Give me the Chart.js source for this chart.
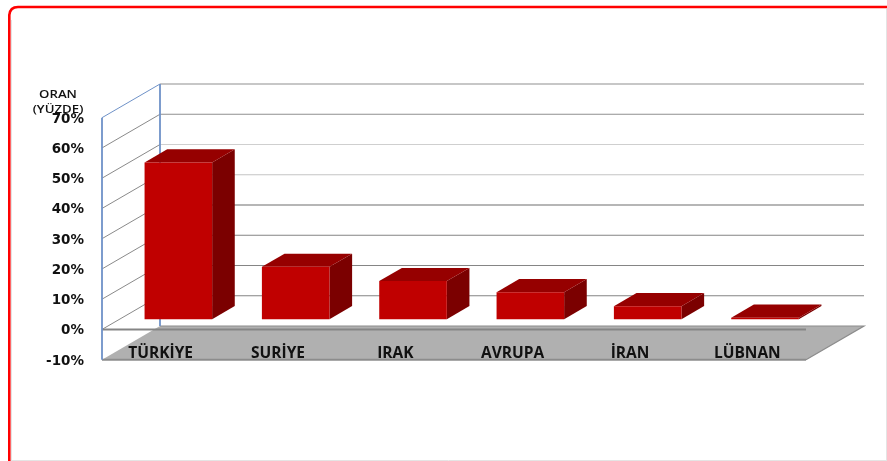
<!DOCTYPE html>
<html><head><meta charset="utf-8">
<style>html,body{margin:0;padding:0;background:#fff;overflow:hidden}canvas{display:block}</style>
<script src="https://cdn.jsdelivr.net/npm/chart.js@4"></script>
</head><body>
<canvas id="c" width="887" height="461"></canvas>
<script>
const categories = ["TÜRKİYE","SURİYE","IRAK","AVRUPA","İRAN","LÜBNAN"];
const values = [51.8,17.3,12.6,8.9,4.3,0.5];
const axisTitle = ["ORAN","(YÜZDE)"];
const yMin = -10, yMax = 70, yStep = 10;
const gridColors = {70:"#8f8f8f",60:"#8f8f8f",50:"#cfcfcf",40:"#c4c4c4",30:"#6e6e6e",20:"#858585",10:"#858585",0:"#858585"};

const DX = 58, DY = -33.7;          // wall depth
const F0 = 0.305, F1 = 0.39;        // bar start and depth in the floor

const scene = {
  id:"scene",
  beforeDraw(ch){
    const c = ch.ctx; c.save();
    c.fillStyle="#fff"; c.fillRect(0,0,887,461);
    // outer frame
    c.strokeStyle="#e4e4e4"; c.lineWidth=1;
    c.beginPath(); c.moveTo(11.5,461); c.lineTo(11.5,20); c.stroke();
    c.beginPath(); c.moveTo(10,460.5); c.lineTo(887,460.5); c.moveTo(886.5,9); c.lineTo(886.5,461); c.stroke();
    c.strokeStyle="#ff0000"; c.lineWidth=2.6;
    c.beginPath(); c.moveTo(9.3,461); c.lineTo(9.3,15); c.quadraticCurveTo(10,7,18,7); c.lineTo(887,7); c.stroke();
    // axis title
    c.fillStyle="#111"; c.textAlign="center"; c.textBaseline="middle";
    c.font="600 11px 'Open Sans'";
    axisTitle.forEach((t,i)=>{ c.save(); c.translate(58,95+i*15); c.scale(1.2,1); c.fillText(t,0,0); c.restore(); });
    c.restore();
  },
  beforeDatasetsDraw(ch){
    const c = ch.ctx, y = ch.scales.y, x = ch.scales.x;
    const L = x.left, R = x.right, Y0 = y.getPixelForValue(yMin), Y70 = y.getPixelForValue(yMax);
    c.save();
    // floor
    c.fillStyle="#b0b0b0";
    c.beginPath(); c.moveTo(L,Y0); c.lineTo(L+DX,Y0+DY); c.lineTo(R+DX,Y0+DY); c.lineTo(R,Y0); c.closePath(); c.fill();
    c.strokeStyle="#8c8c8c"; c.lineWidth=1.2;
    c.beginPath(); c.moveTo(L+DX,Y0+DY); c.lineTo(R+DX,Y0+DY); c.lineTo(R,Y0); c.stroke();
    c.lineWidth=2;
    c.beginPath(); c.moveTo(L,Y0); c.lineTo(R,Y0); c.stroke();
    // grid
    y.ticks.forEach(t=>{
      if(t.value===yMin) return;
      const p = y.getPixelForValue(t.value);
      c.strokeStyle = gridColors[t.value]; c.lineWidth=1.2;
      c.beginPath(); c.moveTo(L+DX,p+DY); c.lineTo(R+DX,p+DY); c.stroke();
      c.strokeStyle = t.value===yMax ? "#6f92c8" : "#8a8a8a"; c.lineWidth=1;
      c.beginPath(); c.moveTo(L,p); c.lineTo(L+DX,p+DY); c.stroke();
    });
    // zero line at the front
    const z = y.getPixelForValue(0);
    c.strokeStyle="#858585"; c.lineWidth=2;
    c.beginPath(); c.moveTo(L,z); c.lineTo(R,z); c.stroke();
    // walls
    c.strokeStyle="#6f92c8"; c.lineWidth=1.8;
    c.beginPath(); c.moveTo(L,Y70); c.lineTo(L,Y0); c.moveTo(L+DX,Y70+DY); c.lineTo(L+DX,Y0+DY); c.stroke();
    // bar side and top faces
    const ox = DX*F0, oy = DY*F0, dx = DX*F1, dy = DY*F1;
    ch.getDatasetMeta(0).data.forEach(b=>{
      const l = b.x-b.width/2+ox, r = b.x+b.width/2+ox, t = b.y+oy, u = b.base+oy;
      c.fillStyle="#7b0000";
      c.beginPath(); c.moveTo(r,t); c.lineTo(r+dx,t+dy); c.lineTo(r+dx,u+dy); c.lineTo(r,u); c.closePath(); c.fill();
      c.fillStyle="#960000";
      c.beginPath(); c.moveTo(l,t); c.lineTo(l+dx,t+dy); c.lineTo(r+dx,t+dy); c.lineTo(r,t); c.closePath(); c.fill();
    });
    c.restore();
    // front faces: the library's own bars, moved into the floor depth
    c.save(); c.translate(ox,oy);
  },
  afterDatasetsDraw(ch){ ch.ctx.restore(); }
};

new Chart(document.getElementById("c"),{
  type:"bar",
  data:{labels:categories,datasets:[{data:values,backgroundColor:"#c00000",borderWidth:0,categoryPercentage:1,barPercentage:0.576,clip:false}]},
  plugins:[scene],
  options:{
    responsive:false,animation:false,
    layout:{padding:{left:10,right:81,top:117.7,bottom:80}},
    plugins:{legend:{display:false},tooltip:{enabled:false},title:{display:false}},
    scales:{
      x:{
        grid:{display:false,drawTicks:false},border:{display:false},
        afterFit(s){s.height=21.3;},
        ticks:{z:2,mirror:true,autoSkip:false,maxRotation:0,minRotation:0,padding:-3,color:"#111",font:{family:"'Open Sans'",size:15.5,weight:"bold"}}
      },
      y:{
        min:yMin,max:yMax,
        grid:{display:false,drawTicks:false},border:{display:false},
        afterFit(s){s.width=92;},
        ticks:{stepSize:yStep,padding:18,labelOffset:1.5,color:"#111",callback:v=>v+"%",font:{family:"'DejaVu Sans'",size:13.5,weight:"bold"}}
      }
    }
  }
});
</script>
</body></html>
